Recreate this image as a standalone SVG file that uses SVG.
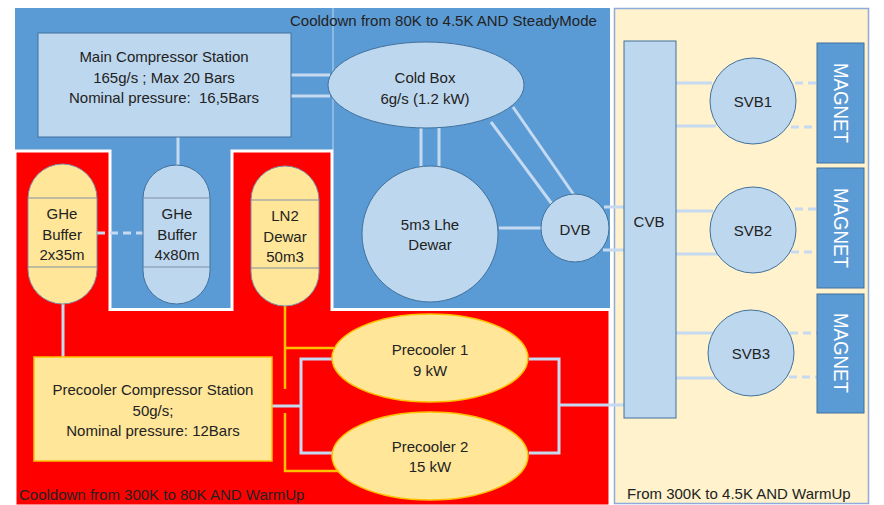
<svg xmlns="http://www.w3.org/2000/svg" width="884" height="505" viewBox="0 0 884 505">
<style>
text{font-family:"Liberation Sans",Arial,sans-serif;font-size:15px;fill:#222;text-anchor:middle;dominant-baseline:central}
.lb{fill:#BDD7EE;stroke:#41719C;stroke-width:1}
.ly{fill:#FFE699;stroke:#7F8FA6;stroke-width:1}
.ly2{fill:#FFE699;stroke:#FFC000;stroke-width:1.5}
.sep{stroke:#7F8FA6;stroke-width:1}
.c{fill:none;stroke:#C5DAF0;stroke-width:3}
.cd{fill:none;stroke:#C5DAF0;stroke-width:3;stroke-dasharray:8 5}
.co{fill:none;stroke:#FFC000;stroke-width:2.5}
.mag{fill:#5B9BD5;stroke:#41719C;stroke-width:1}
.magt{fill:#fff;font-size:20px}
.reg{text-anchor:start}
</style>
<rect width="884" height="505" fill="#fff"/>
<!-- regions -->
<g id="regions">
<rect x="15" y="8" width="595" height="300" fill="#5B9BD5"/>
<line x1="333" y1="8" x2="333" y2="150" stroke="#9DC3E6" stroke-width="1.5"/>
<polygon points="15,151 110,151 110,309.5 232,309.5 232,151 332,151 332,309.5 610,309.5 610,506 15,506" fill="#FF0000" stroke="#fff" stroke-width="3"/>
<rect x="614.5" y="8.5" width="254" height="495" fill="#FFF2CC" stroke="#8FAADC" stroke-width="1.5"/>
<text class="reg" x="290" y="20">Cooldown from 80K to 4.5K AND SteadyMode</text>
<text class="reg" x="19" y="494" fill="#1a1a1a">Cooldown from 300K to 80K AND WarmUp</text>
<text class="reg" x="627" y="493">From 300K to 4.5K AND WarmUp</text>
</g>
<!-- connectors -->
<g id="connectors">
<line class="c" x1="291" y1="75" x2="330" y2="75"/>
<line class="c" x1="291" y1="96" x2="330" y2="96"/>
<line class="c" x1="178" y1="137" x2="178" y2="165"/>
<line class="cd" x1="97" y1="233" x2="143" y2="233"/>
<line class="c" x1="421" y1="128" x2="421" y2="168"/>
<line class="c" x1="439" y1="127" x2="439" y2="168"/>
<line class="c" x1="491" y1="122" x2="552" y2="204"/>
<line class="c" x1="513" y1="107" x2="574" y2="195"/>
<line class="c" x1="499" y1="228" x2="542" y2="228"/>
<line class="c" x1="604" y1="207" x2="624" y2="207"/>
<line class="c" x1="603" y1="250" x2="624" y2="250"/>
<line class="c" x1="676" y1="83" x2="712" y2="83"/>
<line class="c" x1="676" y1="126" x2="716" y2="126"/>
<line class="cd" x1="795" y1="83" x2="817" y2="83"/>
<line class="cd" x1="791" y1="127" x2="817" y2="127"/>
<line class="c" x1="676" y1="211" x2="713" y2="211"/>
<line class="c" x1="676" y1="254" x2="718" y2="254"/>
<line class="cd" x1="795" y1="209" x2="817" y2="209"/>
<line class="cd" x1="791" y1="252" x2="817" y2="252"/>
<line class="c" x1="676" y1="333" x2="714" y2="333"/>
<line class="c" x1="676" y1="378" x2="717" y2="378"/>
<line class="cd" x1="790" y1="333" x2="817" y2="333"/>
<line class="cd" x1="789" y1="377" x2="817" y2="377"/>
<line class="c" x1="63" y1="304" x2="63" y2="357"/>
<polyline class="c" points="272,406 301,406"/>
<polyline class="c" points="335,359 301,359 301,453 335,453"/>
<polyline class="c" points="529,359 559,359 559,453 529,453"/>
<line class="c" x1="559" y1="405" x2="624" y2="405"/>
<polyline class="co" points="285,306 285,389"/>
<line class="co" x1="285" y1="348" x2="334" y2="348"/>
<polyline class="co" points="285,413 285,471 340,471"/>
</g>
<!-- nodes -->
<g id="main-compressor">
<rect class="lb" x="38" y="33" width="253" height="104"/>
<text x="164" y="56">Main Compressor Station</text>
<text x="164" y="77">165g/s ; Max 20 Bars</text>
<text x="164" y="97">Nominal pressure: &#160;16,5Bars</text>
</g>
<g id="cold-box">
<ellipse class="lb" cx="426" cy="85" rx="98" ry="43"/>
<text x="425" y="77">Cold Box</text>
<text x="425" y="98">6g/s (1.2 kW)</text>
</g>
<g id="lhe-dewar">
<circle class="lb" cx="430" cy="234" r="68"/>
<text x="430" y="224">5m3 Lhe</text>
<text x="430" y="244">Dewar</text>
</g>
<g id="dvb">
<circle class="lb" cx="575" cy="228" r="34"/>
<text x="575" y="229">DVB</text>
</g>
<g id="ghe-buffer-2x35">
<rect class="ly" x="28" y="164" width="69" height="140" rx="34.5"/>
<line class="sep" x1="28" y1="198" x2="97" y2="198"/>
<line class="sep" x1="28" y1="267" x2="97" y2="267"/>
<text x="62" y="213">GHe</text>
<text x="62" y="234">Buffer</text>
<text x="62" y="254">2x35m</text>
</g>
<g id="ghe-buffer-4x80">
<rect class="lb" x="143" y="165" width="67" height="139" rx="33.5"/>
<line class="sep" x1="143" y1="198" x2="210" y2="198"/>
<line class="sep" x1="143" y1="267" x2="210" y2="267"/>
<text x="177" y="213">GHe</text>
<text x="177" y="234">Buffer</text>
<text x="177" y="254">4x80m</text>
</g>
<g id="ln2-dewar">
<rect class="ly" x="251" y="166" width="68" height="140" rx="34"/>
<line class="sep" x1="251" y1="200" x2="319" y2="200"/>
<line class="sep" x1="251" y1="268" x2="319" y2="268"/>
<text x="285" y="215">LN2</text>
<text x="285" y="236">Dewar</text>
<text x="285" y="256">50m3</text>
</g>
<g id="precooler-compressor">
<rect class="ly2" x="34" y="357" width="238" height="104"/>
<text x="153" y="389">Precooler Compressor Station</text>
<text x="153" y="410">50g/s;</text>
<text x="153" y="430">Nominal pressure: 12Bars</text>
</g>
<g id="precooler-1">
<ellipse class="ly2" cx="430" cy="358" rx="98" ry="44"/>
<text x="430" y="349">Precooler 1</text>
<text x="430" y="370">9 kW</text>
</g>
<g id="precooler-2">
<ellipse class="ly2" cx="430" cy="456" rx="98" ry="44"/>
<text x="430" y="446">Precooler 2</text>
<text x="430" y="466">15 kW</text>
</g>
<g id="cvb">
<rect class="lb" x="624" y="41" width="52" height="377"/>
<text x="649" y="221">CVB</text>
</g>
<g id="svb1">
<circle class="lb" cx="753" cy="101" r="43"/>
<text x="753" y="101">SVB1</text>
</g>
<g id="svb2">
<circle class="lb" cx="753" cy="230" r="43"/>
<text x="753" y="230">SVB2</text>
</g>
<g id="svb3">
<circle class="lb" cx="751" cy="353" r="43"/>
<text x="751" y="353">SVB3</text>
</g>
<g id="magnet1">
<rect class="mag" x="817" y="43" width="47" height="120"/>
<text class="magt" transform="translate(841,103) rotate(90)" x="0" y="0" textLength="80" lengthAdjust="spacingAndGlyphs">MAGNET</text>
</g>
<g id="magnet2">
<rect class="mag" x="817" y="168" width="47" height="120"/>
<text class="magt" transform="translate(841,228) rotate(90)" x="0" y="0" textLength="80" lengthAdjust="spacingAndGlyphs">MAGNET</text>
</g>
<g id="magnet3">
<rect class="mag" x="817" y="294" width="47" height="119"/>
<text class="magt" transform="translate(841,353) rotate(90)" x="0" y="0" textLength="80" lengthAdjust="spacingAndGlyphs">MAGNET</text>
</g>
</svg>
